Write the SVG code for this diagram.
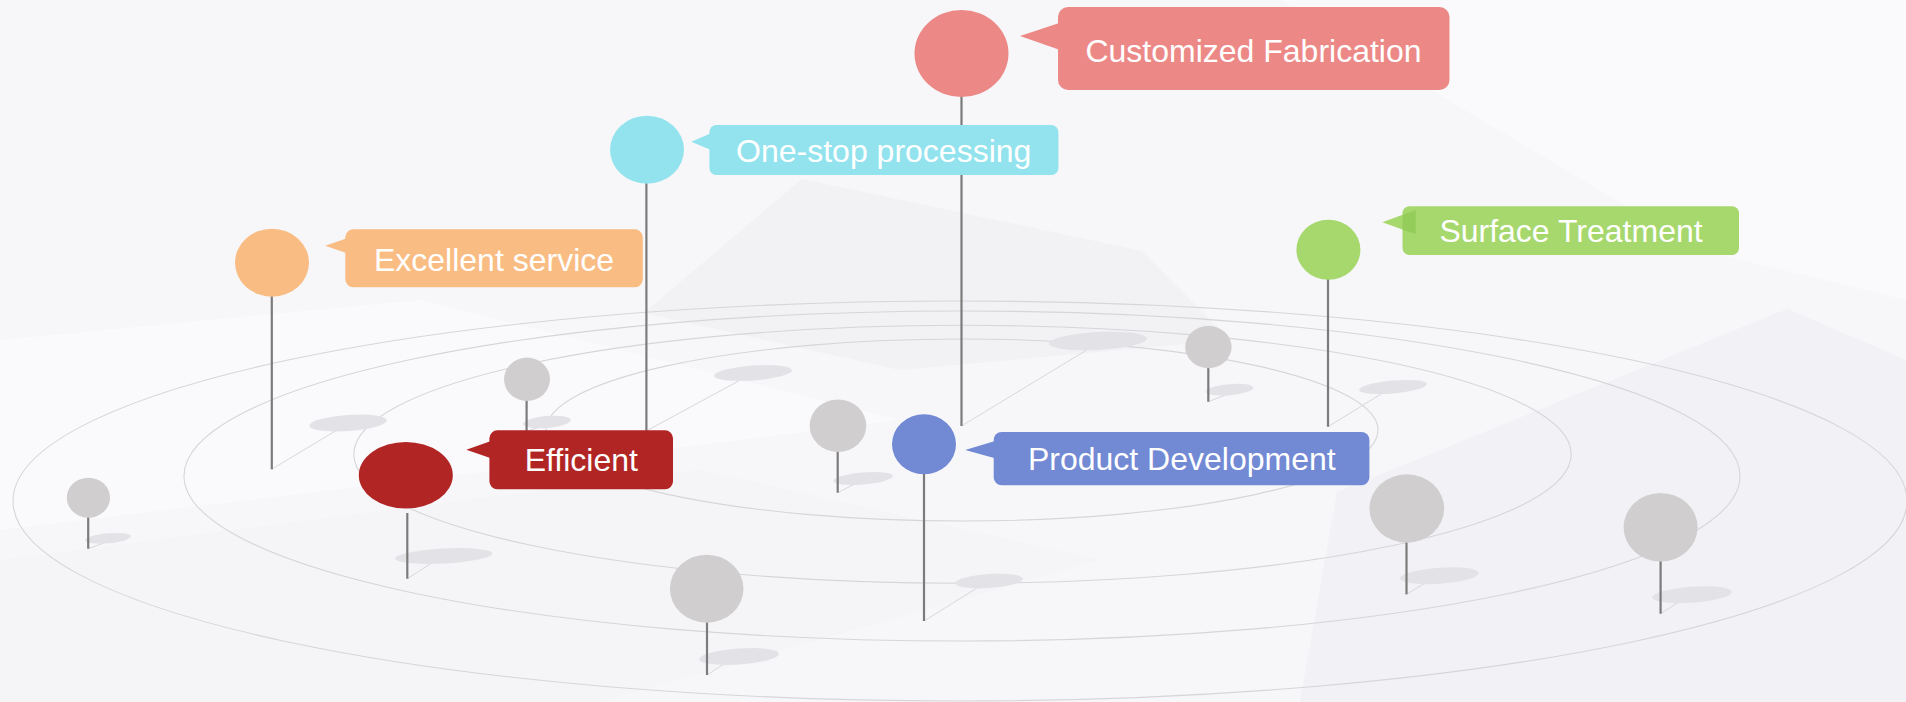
<svg xmlns="http://www.w3.org/2000/svg" width="1906" height="702" viewBox="0 0 1906 702">
<style>
.ring{fill:none;stroke:#d6d6da;stroke-width:1.1}
.stem{stroke:#7b7b7b;stroke-width:2.2;fill:none}
.shadow{fill:#e3e3e7}
.sline{stroke:#d8d8dc;stroke-width:1;fill:none}
.gray{fill:#d0cecf}
.lbl{font-family:"Liberation Sans",Arial,sans-serif;font-size:32px;fill:#ffffff;text-anchor:middle}
</style>
<g id="background">
<rect x="0" y="0" width="1906" height="702" fill="#f7f7fa"/>
<polygon points="802,179 1142,251 1230,340 900,370 644,313" fill="#ececf0" opacity="0.45"/>
<polygon points="1787,309 1906,360 1906,702 1300,702 1337,492" fill="#eeeef2" opacity="0.5"/>
<polygon points="0,340 420,300 900,420 500,470 0,530" fill="#ffffff" opacity="0.4"/>
<polygon points="0,560 700,470 1100,560 600,702 0,702" fill="#f2f2f5" opacity="0.4"/>
<polygon points="1280,0 1906,0 1906,300 1700,250" fill="#fbfbfd" opacity="0.6"/>
</g>
<g id="rings">
<ellipse class="ring" cx="960" cy="501" rx="947" ry="200"/>
<ellipse class="ring" cx="962" cy="476" rx="778" ry="165"/>
<ellipse class="ring" cx="962.5" cy="454.3" rx="608.7" ry="129"/>
<ellipse class="ring" cx="962" cy="430" rx="416" ry="91"/>
</g>
<g id="connectors">
<line class="sline" x1="271.7" y1="469.3" x2="337" y2="430"/>
<line class="sline" x1="407.3" y1="578.7" x2="431.6" y2="563"/>
<line class="sline" x1="646.2" y1="431" x2="738.6" y2="381"/>
<line class="sline" x1="961.5" y1="426" x2="1090" y2="348"/>
<line class="sline" x1="1328" y1="426.7" x2="1381.6" y2="393.7"/>
<line class="sline" x1="924" y1="621" x2="977" y2="588"/>
<line class="sline" x1="88" y1="548.7" x2="104" y2="543"/>
<line class="sline" x1="527" y1="431" x2="540" y2="427"/>
<line class="sline" x1="707" y1="675" x2="723.4" y2="664.3"/>
<line class="sline" x1="837.7" y1="492.7" x2="854" y2="484.3"/>
<line class="sline" x1="1208.3" y1="401.7" x2="1225.3" y2="395"/>
<line class="sline" x1="1406.5" y1="594.3" x2="1424" y2="583.7"/>
<line class="sline" x1="1660.6" y1="613.7" x2="1677.6" y2="602.7"/>
</g>
<g id="shadows">
<ellipse class="shadow" cx="348" cy="423" rx="39" ry="8" transform="rotate(-4 348 423)"/>
<ellipse class="shadow" cx="443.7" cy="556" rx="48.7" ry="7.5" transform="rotate(-3 443.7 556)"/>
<ellipse class="shadow" cx="753" cy="373" rx="39" ry="7.5" transform="rotate(-4 753 373)"/>
<ellipse class="shadow" cx="1098" cy="341" rx="49" ry="9" transform="rotate(-3 1098 341)"/>
<ellipse class="shadow" cx="1393" cy="387" rx="34" ry="6.5" transform="rotate(-5 1393 387)"/>
<ellipse class="shadow" cx="989" cy="581" rx="34" ry="7" transform="rotate(-4 989 581)"/>
<ellipse class="shadow" cx="108" cy="538.3" rx="23" ry="5" transform="rotate(-5 108 538.3)"/>
<ellipse class="shadow" cx="547" cy="422" rx="24" ry="6" transform="rotate(-5 547 422)"/>
<ellipse class="shadow" cx="739" cy="656.5" rx="40" ry="8" transform="rotate(-4 739 656.5)"/>
<ellipse class="shadow" cx="863" cy="478.5" rx="30" ry="6" transform="rotate(-5 863 478.5)"/>
<ellipse class="shadow" cx="1229.6" cy="389.7" rx="24" ry="5.5" transform="rotate(-5 1229.6 389.7)"/>
<ellipse class="shadow" cx="1439.3" cy="575.7" rx="39.5" ry="8" transform="rotate(-4 1439.3 575.7)"/>
<ellipse class="shadow" cx="1692" cy="594.7" rx="40" ry="8" transform="rotate(-4 1692 594.7)"/>
</g>
<g id="gray-pins">
<g id="gray-pin-1"><line class="stem" x1="88.2" y1="517" x2="88.2" y2="548.7"/><ellipse class="gray" cx="88.4" cy="497.7" rx="21.6" ry="20"/></g>
<g id="gray-pin-2"><line class="stem" x1="526.6" y1="400" x2="526.6" y2="431"/><ellipse class="gray" cx="527" cy="379.3" rx="23" ry="21.7"/></g>
<g id="gray-pin-3"><line class="stem" x1="707" y1="622" x2="707" y2="675"/><ellipse class="gray" cx="706.7" cy="588.7" rx="36.8" ry="34"/></g>
<g id="gray-pin-4"><line class="stem" x1="837.7" y1="451" x2="837.7" y2="492.7"/><ellipse class="gray" cx="838" cy="425.7" rx="28.3" ry="26.3"/></g>
<g id="gray-pin-5"><line class="stem" x1="1208.3" y1="367" x2="1208.3" y2="401.7"/><ellipse class="gray" cx="1208.4" cy="347" rx="23.2" ry="21.2"/></g>
<g id="gray-pin-6"><line class="stem" x1="1406.5" y1="542" x2="1406.5" y2="594.3"/><ellipse class="gray" cx="1406.8" cy="508.5" rx="37.4" ry="34.2"/></g>
<g id="gray-pin-7"><line class="stem" x1="1660.6" y1="561" x2="1660.6" y2="613.7"/><ellipse class="gray" cx="1660.6" cy="527.3" rx="37" ry="34.3"/></g>
</g>
<g id="node-customized">
<line class="stem" x1="961.5" y1="96" x2="961.5" y2="426"/>
<ellipse cx="961.5" cy="53.5" rx="47" ry="43.5" fill="#ec8987"/>
<polygon points="1020,36 1060,22.7 1060,50" fill="#ec8987"/>
<rect x="1058" y="7" width="391.5" height="83" rx="10" fill="#ec8987"/>
<text class="lbl" x="1253.5" y="61.5">Customized Fabrication</text>
</g>
<g id="node-onestop">
<line class="stem" x1="646.4" y1="183" x2="646.4" y2="431"/>
<ellipse cx="647" cy="149.7" rx="37" ry="34" fill="#93e3ee"/>
<polygon points="691.2,141.7 711,133.3 711,150" fill="#93e3ee"/>
<rect x="709.4" y="125" width="349" height="50" rx="7" fill="#93e3ee"/>
<text class="lbl" x="883.7" y="162">One-stop processing</text>
</g>
<g id="node-excellent">
<line class="stem" x1="271.8" y1="296" x2="271.8" y2="469.3"/>
<ellipse cx="272" cy="262.7" rx="37" ry="34" fill="#f9bc83"/>
<polygon points="325.2,245.7 347,238.3 347,253.3" fill="#f9bc83"/>
<rect x="345.3" y="229.3" width="297.5" height="58" rx="8" fill="#f9bc83"/>
<text class="lbl" x="494" y="270.5">Excellent service</text>
</g>
<g id="node-surface">
<line class="stem" x1="1328" y1="279" x2="1328" y2="426.7"/>
<ellipse cx="1328.4" cy="249.7" rx="32" ry="30" fill="#a6d86e"/>
<polygon points="1382.3,222.3 1415.7,210 1415.7,234.3" fill="#a6d86e"/>
<rect x="1402.5" y="206.3" width="336.5" height="48.7" rx="7" fill="#a6d86e"/>
<polygon points="1402.5,214.9 1415.7,210 1415.7,234.3 1402.5,229.5" fill="#94cd5a"/>
<text class="lbl" x="1571" y="241.5">Surface Treatment</text>
</g>
<g id="node-efficient">
<line class="stem" x1="407.3" y1="513" x2="407.3" y2="578.7"/>
<ellipse cx="405.8" cy="475.3" rx="47" ry="33.3" fill="#b12525"/>
<polygon points="466.3,449.7 491,441 491,458.3" fill="#b12525"/>
<rect x="489.4" y="430.3" width="183.6" height="59" rx="8" fill="#b12525"/>
<text class="lbl" x="581.3" y="470.5">Efficient</text>
</g>
<g id="node-product">
<line class="stem" x1="924" y1="473" x2="924" y2="621"/>
<ellipse cx="924" cy="444.3" rx="32" ry="30" fill="#7289d4"/>
<polygon points="965.2,450 995,441 995,458.3" fill="#7289d4"/>
<rect x="993.7" y="432" width="375.7" height="53.3" rx="8" fill="#7289d4"/>
<text class="lbl" x="1181.8" y="469.5">Product Development</text>
</g>
</svg>
